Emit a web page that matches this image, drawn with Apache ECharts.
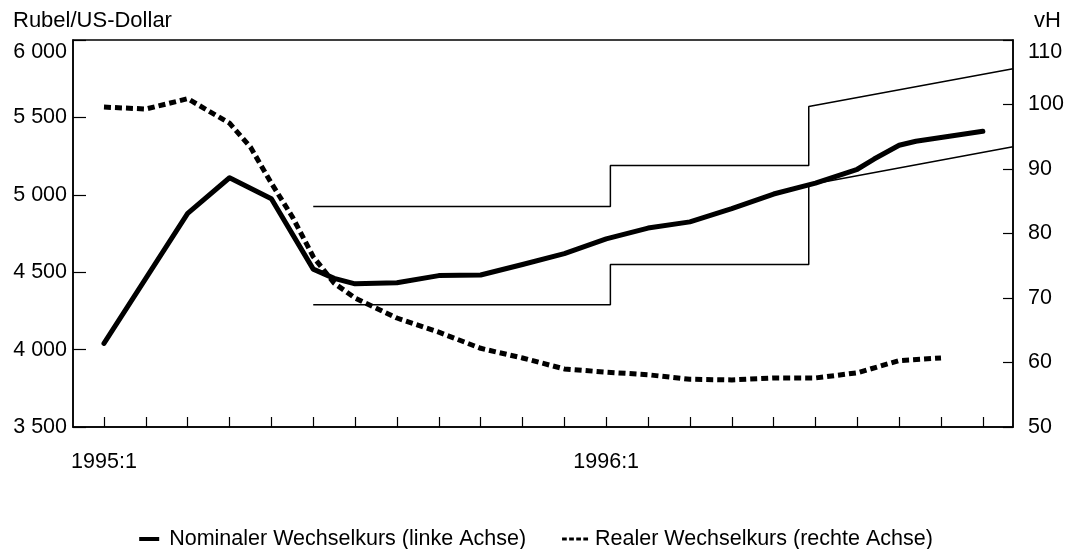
<!DOCTYPE html>
<html>
<head>
<meta charset="utf-8">
<script src="https://cdn.jsdelivr.net/npm/echarts@6/dist/echarts.min.js"></script>
<style>html,body{margin:0;padding:0;background:#fff}#c{width:1072px;height:549px}</style>
</head>
<body>
<div id="c"></div>
<script>
// Month index: 0 = 1995:1, 12 = 1996:1
const tickMonths = [0,1,2,3,4,5,6,7,8,9,10,11,12,13,14,15,16,17,18,19,20,21];
const labelMonths = [0, 12];
const labelTexts = {0: '1995:1', 12: '1996:1'};

const nominalX = [0,1,2,3,4,5,5.5,6,7,8,9,10,11,12,13,14,15,16,17,18,18.4,19,19.4,20,21];
const nominalY = [4040,4460,4880,5110,4975,4520,4460,4425,4432,4478,4482,4550,4620,4715,4785,4825,4910,5005,5075,5165,5231,5320,5346,5370,5410];

const realX = [0,1,2,3,3.5,4,4.5,5,5.5,6,7,8,9,10,11,12,13,14,15,16,17,18,19,20];
const realY = [99.6,99.3,100.9,97.1,93.4,87.8,82.6,76.4,72.3,70.0,66.9,64.7,62.2,60.7,59.0,58.5,58.1,57.4,57.3,57.6,57.6,58.4,60.3,60.7];

const bandUpperX = [5,12.1,12.1,16.84,16.84,21.72];
const bandUpperY = [4925,4925,5190,5190,5570,5815];
const bandLowerX = [5,12.1,12.1,16.84,16.84,21.72];
const bandLowerY = [4290,4290,4550,4550,5065,5310];

const zip = (xs, ys) => xs.map((x, i) => [x, ys[i]]);
const FONT = '"Liberation Sans", Arial, sans-serif';
const FS = 21.5;
const fmtThousand = v => { const s = String(v); return s.length > 3 ? s.slice(0, s.length - 3) + ' ' + s.slice(-3) : s; };

const chart = echarts.init(document.getElementById('c'), null, {renderer: 'canvas'});
chart.setOption({
  animation: false,
  backgroundColor: '#fff',
  textStyle: {fontFamily: FONT, color: '#000'},
  title: [
    {text: 'Rubel/US-Dollar', left: 8, top: 5, textStyle: {fontFamily: FONT, fontSize: 22, fontWeight: 'normal', color: '#000'}},
    {text: 'vH', left: 1029, top: 5, textStyle: {fontFamily: FONT, fontSize: 22, fontWeight: 'normal', color: '#000'}}
  ],
  grid: {left: 73, right: 59, top: 40, bottom: 122, show: true, borderColor: '#000', borderWidth: 1.5, containLabel: false},
  legend: {
    top: 523, left: 'center',
    data: [
      {name: 'Nominaler Wechselkurs (linke Achse)', icon: 'path://M0,0h20v4h-20z'},
      {name: 'Realer Wechselkurs (rechte Achse)', icon: 'path://M0,0h6v4h-6z M9,0h6v4h-6z M18,0h6v4h-6z M27,0h6v4h-6z'}
    ],
    itemWidth: 26, itemHeight: 4, itemGap: 36,
    textStyle: {fontFamily: FONT, fontSize: FS, color: '#000', padding: [0, 0, 0, 2]}
  },
  xAxis: {
    type: 'value', min: -0.74, max: 21.72,
    axisLine: {show: true, onZero: false, lineStyle: {color: '#000', width: 1.5}},
    splitLine: {show: false},
    axisTick: {show: true, inside: true, length: 10, customValues: tickMonths, lineStyle: {color: '#000', width: 1.2}},
    axisLabel: {customValues: labelMonths, formatter: v => labelTexts[Math.round(v)] || '', fontSize: FS, color: '#000', fontFamily: FONT, margin: 24}
  },
  yAxis: [
    {
      type: 'value', min: 3500, max: 6000, interval: 500, position: 'left',
      axisLine: {show: true, onZero: false, lineStyle: {color: '#000', width: 1.5}},
      axisTick: {show: true, inside: true, length: 13, lineStyle: {color: '#000', width: 1.2}},
      splitLine: {show: false},
      axisLabel: {
        margin: 6, fontSize: FS, color: '#000', fontFamily: FONT,
        formatter: v => v === 6000 ? '{top|' + fmtThousand(v) + '}' : fmtThousand(v),
        rich: {top: {fontSize: FS, fontFamily: FONT, color: '#000', padding: [24, 0, 0, 0]}}
      }
    },
    {
      type: 'value', min: 50, max: 110, interval: 10, position: 'right',
      axisLine: {show: true, onZero: false, lineStyle: {color: '#000', width: 1.5}},
      axisTick: {show: true, inside: true, length: 10, lineStyle: {color: '#000', width: 1.2}},
      splitLine: {show: false},
      axisLabel: {
        margin: 15, fontSize: FS, color: '#000', fontFamily: FONT,
        formatter: v => v === 110 ? '{top|' + v + '}' : String(v),
        rich: {top: {fontSize: FS, fontFamily: FONT, color: '#000', padding: [24, 0, 0, 0]}}
      }
    }
  ],
  series: [
    {name: 'bandUpper', type: 'line', yAxisIndex: 0, data: zip(bandUpperX, bandUpperY), symbol: 'none', lineStyle: {color: '#000', width: 1.5}, silent: true},
    {name: 'bandLower', type: 'line', yAxisIndex: 0, data: zip(bandLowerX, bandLowerY), symbol: 'none', lineStyle: {color: '#000', width: 1.5}, silent: true},
    {name: 'Realer Wechselkurs (rechte Achse)', type: 'line', yAxisIndex: 1, data: zip(realX, realY), symbol: 'none',
      itemStyle: {color: '#000'}, lineStyle: {color: '#000', width: 5, type: [7, 4]}},
    {name: 'Nominaler Wechselkurs (linke Achse)', type: 'line', yAxisIndex: 0, data: zip(nominalX, nominalY), symbol: 'none',
      itemStyle: {color: '#000'}, lineStyle: {color: '#000', width: 5, join: 'round', cap: 'round'}}
  ]
});
</script>
</body>
</html>
